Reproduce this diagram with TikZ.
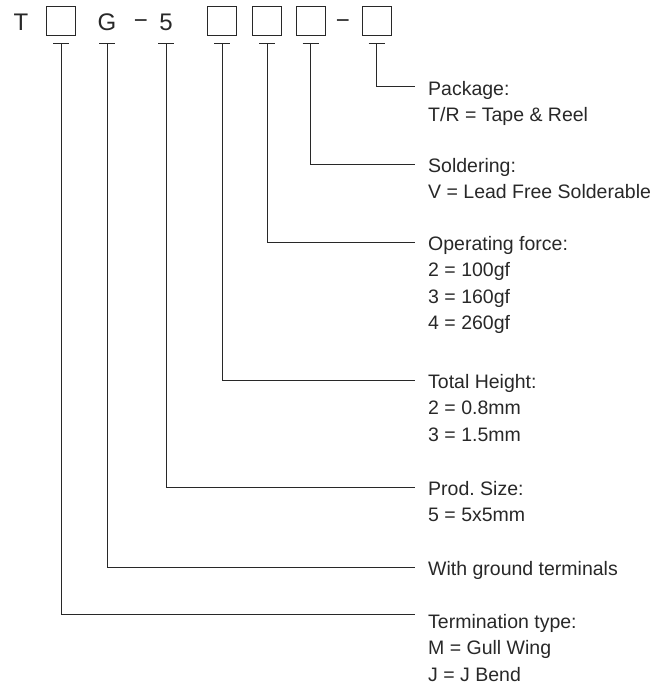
\documentclass[tikz,border=0pt]{standalone}
\usepackage{fontspec}
\setmainfont{Liberation Sans}
\usetikzlibrary{positioning,calc}
\definecolor{codeink}{RGB}{40,40,40}

\begin{document}
\begin{tikzpicture}[x=1pt, y=-1pt,
    codechar/.style={font=\fontsize{24}{24}\selectfont, text=codeink, inner sep=0pt, anchor=base},
    codebox/.style={draw=codeink, line width=1pt, minimum size=29pt, inner sep=0pt},
    desc/.style={font=\fontsize{19.5}{26.5}\selectfont, text=codeink, anchor=base west, inner sep=0pt},
    lead/.style={codeink, line width=1pt},
    tick/.style={codeink, line width=1pt}
]
\useasboundingbox (0,0) rectangle (663,686);

% Part number row
\node[codechar] (cT) at (21,30) {T};
\node[codebox] (b1) at (61,20.5) {};
\node[codechar] (cG) at (107,30) {G};
\node[codechar] (m1) at (141,28) {−};
\node[codechar] (c5) at (166,30) {5};
\node[codebox] (b2) at (222,20.5) {};
\node[codebox] (b3) at (267,20.5) {};
\node[codebox] (b4) at (310.5,20.5) {};
\node[codechar] (m2) at (343,28) {−};
\node[codebox] (b5) at (376.5,20.5) {};

% Descriptions
\newcommand{\desclines}[1]{\begin{tabular}[t]{@{}l@{}}#1\end{tabular}}
\node[desc] (pkg) at (428,95) {\desclines{Package:\\T/R = Tape \& Reel}};
\node[desc] (sold) at (428,172) {\desclines{Soldering:\\V = Lead Free Solderable}};
\node[desc] (force) at (428,250) {\desclines{Operating force:\\2 = 100gf\\3 = 160gf\\4 = 260gf}};
\node[desc] (height) at (428,388) {\desclines{Total Height:\\2 = 0.8mm\\3 = 1.5mm}};
\node[desc] (size) at (428,495) {\desclines{Prod.\ Size:\\5 = 5x5mm}};
\node[desc] (gnd) at (428,575) {\desclines{With ground terminals}};
\node[desc] (term) at (428,628) {\desclines{Termination type:\\M = Gull Wing\\J = J Bend}};

% Leaders
\coordinate (row) at (0,43);
\foreach \src/\dst/\dy in {b1/term/-14, cG/gnd/-8, c5/size/-8, b2/height/-8, b3/force/-8, b4/sold/-8, b5/pkg/-9} {
  \draw[tick] ($(\src.center |- row)+(-8,0)$) -- ++(16,0);
  \draw[lead] (\src.center |- row) |- ($(\dst.base west)+(-13,\dy)$);
}

\end{tikzpicture}
\end{document}
